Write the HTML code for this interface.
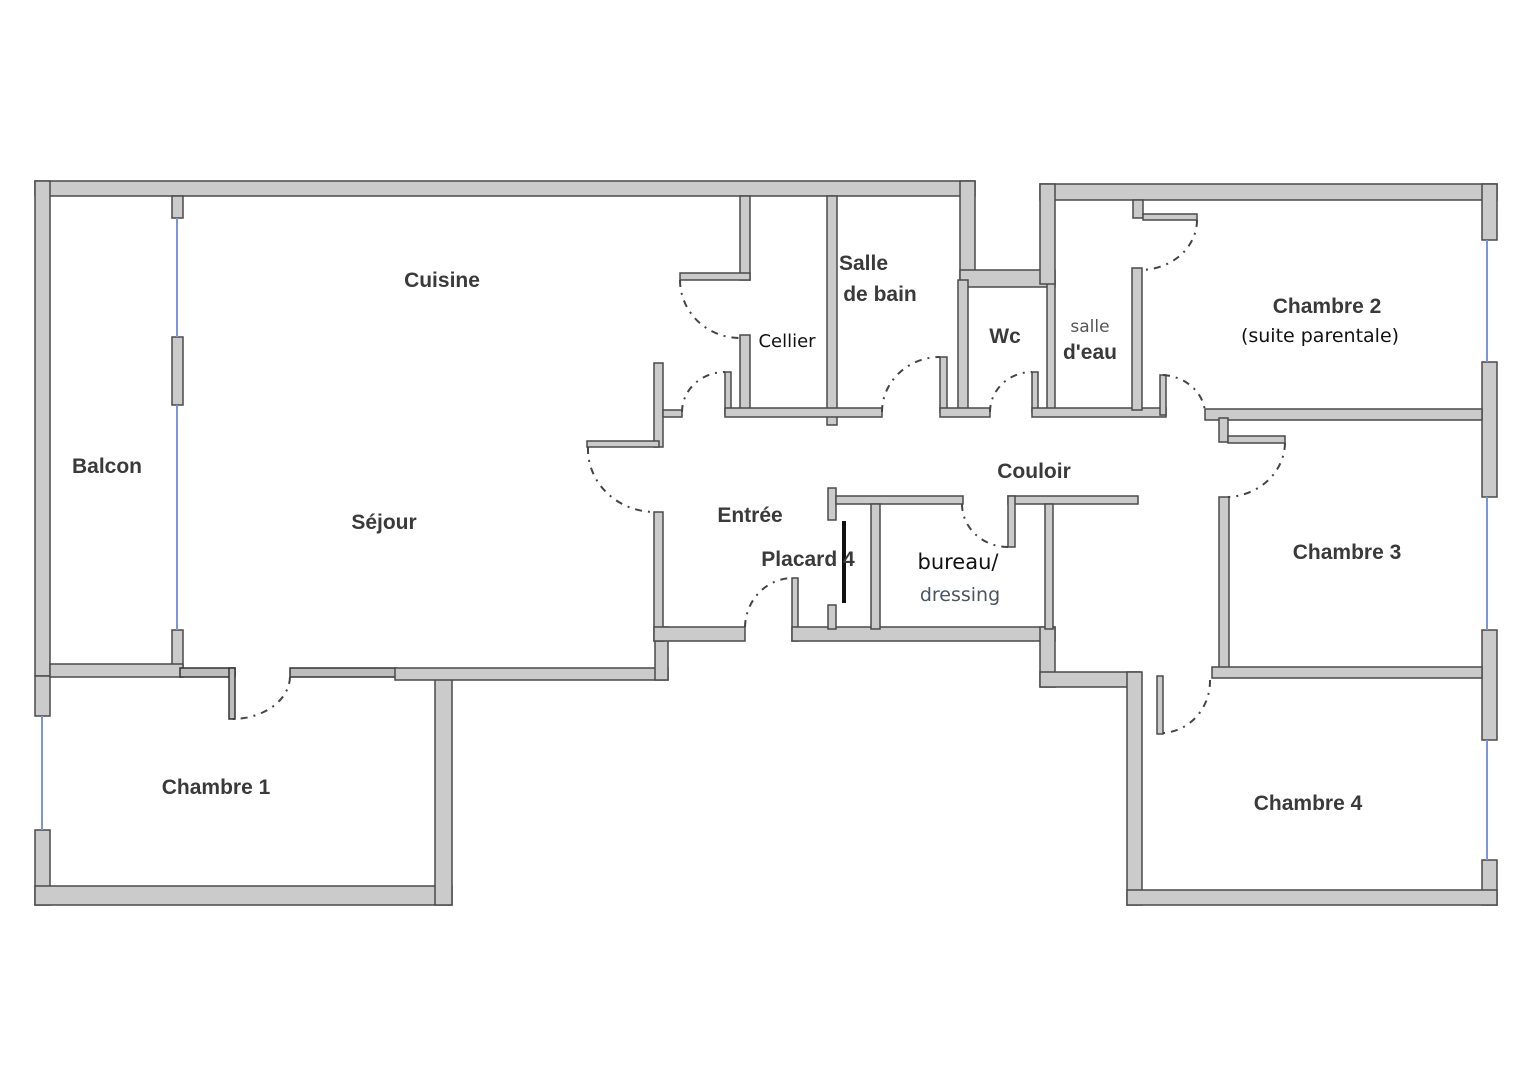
<!DOCTYPE html>
<html><head><meta charset="utf-8"><style>
html,body{margin:0;padding:0;background:#fff;}
svg{display:block;}
.w{fill:#cbcbcb;stroke:#4a4a4a;stroke-width:1.5;}
.h{fill:#bdbdbd;stroke:#333;stroke-width:1.5;}
.d{fill:none;stroke:#444;stroke-width:2;stroke-dasharray:7 6 2 6;}
.win{stroke:#7a96d8;stroke-width:2;}
.t{font-family:"Liberation Sans",sans-serif;font-weight:bold;font-size:21px;fill:#3a3a3a;text-anchor:middle;}
.hw{font-family:"DejaVu Sans","Liberation Sans",sans-serif;font-size:19px;fill:#111;text-anchor:middle;}
</style></head><body>
<svg width="1527" height="1080" viewBox="0 0 1527 1080" xmlns="http://www.w3.org/2000/svg">
<!-- LEFT BLOCK outer -->
<rect class="w" x="35" y="181" width="940" height="15"/>
<rect class="w" x="35" y="181" width="15" height="495"/>
<rect class="w" x="35" y="830" width="15" height="75"/>
<rect class="w" x="35" y="676" width="15" height="40"/>
<rect class="w" x="35" y="886" width="417" height="19"/>
<rect class="w" x="435" y="672" width="17" height="233"/>
<rect class="w" x="960" y="181" width="15" height="105"/>
<!-- dip -->
<rect class="w" x="960" y="270" width="95" height="17"/>
<!-- balcony/sejour wall -->
<rect class="w" x="172" y="196" width="11" height="22"/>
<rect class="w" x="172" y="337" width="11" height="68"/>
<rect class="w" x="172" y="630" width="11" height="40"/>
<line class="win" x1="177" y1="218" x2="177" y2="337"/>
<line class="win" x1="177" y1="405" x2="177" y2="630"/>
<line class="win" x1="42" y1="716" x2="42" y2="830"/>
<rect class="w" x="50" y="664" width="133" height="13"/>
<rect class="h" x="180" y="668" width="55" height="9"/>
<rect class="h" x="229" y="668" width="6" height="51"/>
<rect class="h" x="290" y="668" width="106" height="9"/>
<rect class="w" x="395" y="668" width="273" height="12"/>
<rect class="w" x="655" y="627" width="13" height="53"/>
<!-- Entree -->
<rect class="w" x="654" y="363" width="9" height="84"/>
<rect class="w" x="663" y="410" width="19" height="7"/>
<rect class="w" x="587" y="441" width="72" height="6"/>
<rect class="w" x="654" y="512" width="9" height="129"/>
<rect class="w" x="654" y="627" width="91" height="14"/>
<rect class="w" x="792" y="578" width="6" height="63"/>
<rect class="w" x="792" y="627" width="263" height="14"/>
<!-- cellier / sdb -->
<rect class="w" x="740" y="196" width="10" height="84"/>
<rect class="w" x="680" y="273" width="70" height="7"/>
<rect class="w" x="740" y="335" width="10" height="80"/>
<rect class="w" x="725" y="372" width="6" height="43"/>
<rect class="w" x="827" y="196" width="10" height="229"/>
<rect class="w" x="725" y="408" width="157" height="9"/>
<rect class="w" x="940" y="357" width="7" height="55"/>
<rect class="w" x="958" y="280" width="10" height="132"/>
<rect class="w" x="940" y="408" width="50" height="9"/>
<rect class="w" x="1047" y="280" width="8" height="132"/>
<rect class="w" x="1032" y="372" width="6" height="40"/>
<rect class="w" x="1032" y="408" width="134" height="9"/>
<rect class="w" x="1132" y="268" width="10" height="142"/>
<rect class="w" x="1160" y="375" width="6" height="40"/>
<!-- right block outer -->
<rect class="w" x="1040" y="184" width="457" height="16"/>
<rect class="w" x="1040" y="184" width="15" height="100"/>
<rect class="w" x="1133" y="200" width="10" height="18"/>
<rect class="w" x="1143" y="214" width="54" height="6"/>
<rect class="w" x="1482" y="184" width="15" height="56"/>
<rect class="w" x="1482" y="362" width="15" height="135"/>
<rect class="w" x="1482" y="630" width="15" height="110"/>
<rect class="w" x="1482" y="860" width="15" height="45"/>
<line class="win" x1="1487" y1="240" x2="1487" y2="362"/>
<line class="win" x1="1487" y1="497" x2="1487" y2="630"/>
<line class="win" x1="1487" y1="740" x2="1487" y2="860"/>
<rect class="w" x="1205" y="409" width="277" height="11"/>
<rect class="w" x="1219" y="418" width="9" height="24"/>
<rect class="w" x="1228" y="436" width="57" height="7"/>
<rect class="w" x="1219" y="497" width="10" height="178"/>
<rect class="w" x="1212" y="667" width="270" height="11"/>
<rect class="w" x="1157" y="676" width="6" height="58"/>
<rect class="w" x="1040" y="627" width="15" height="60"/>
<rect class="w" x="1040" y="672" width="100" height="15"/>
<rect class="w" x="1127" y="672" width="15" height="233"/>
<rect class="w" x="1127" y="890" width="370" height="15"/>
<!-- couloir lower -->
<rect class="w" x="828" y="488" width="8" height="32"/>
<rect class="w" x="836" y="496" width="127" height="8"/>
<rect class="w" x="1008" y="496" width="130" height="8"/>
<rect class="w" x="1008" y="496" width="7" height="51"/>
<rect class="w" x="871" y="504" width="9" height="125"/>
<rect class="w" x="1045" y="504" width="8" height="125"/>
<rect class="w" x="828" y="605" width="8" height="24"/>
<rect x="842" y="521" width="4" height="82" fill="#111"/>
<!-- doors -->
<path class="d" d="M680,280 A60,58 0 0 0 740,338"/>
<path class="d" d="M682,412 A43,40 0 0 1 725,372"/>
<path class="d" d="M882,412 A58,55 0 0 1 940,357"/>
<path class="d" d="M990,412 A42,40 0 0 1 1032,372"/>
<path class="d" d="M1163,375 A45,40 0 0 1 1205,412"/>
<path class="d" d="M1197,220 A57,50 0 0 1 1140,270"/>
<path class="d" d="M1285,443 A60,55 0 0 1 1228,497"/>
<path class="d" d="M588,447 A67,63 0 0 0 655,512"/>
<path class="d" d="M745,627 A48,50 0 0 1 793,578"/>
<path class="d" d="M962,504 A46,43 0 0 0 1008,547"/>
<path class="d" d="M1210,680 A50,52 0 0 1 1163,733"/>
<path class="d" d="M290,677 A58,43 0 0 1 232,719"/>
<!-- labels -->
<text class="t" x="442" y="287">Cuisine</text>
<text class="t" x="384" y="529">Séjour</text>
<text class="t" x="107" y="473">Balcon</text>
<text class="t" x="216" y="794">Chambre 1</text>
<text class="hw" x="787" y="347" style="font-size:18px">Cellier</text>
<text class="t" x="866" y="270" style="text-anchor:start" transform="translate(-27,0)">Salle</text>
<text class="t" x="880" y="301">de bain</text>
<text class="t" x="1005" y="343">Wc</text>
<text class="hw" x="1090" y="332" style="font-size:17px;fill:#555">salle</text>
<text class="t" x="1090" y="359">d'eau</text>
<text class="t" x="1327" y="313">Chambre 2</text>
<text class="hw" x="1320" y="342">(suite parentale)</text>
<text class="t" x="1034" y="478">Couloir</text>
<text class="t" x="750" y="522">Entrée</text>
<text class="t" x="808" y="566">Placard 4</text>
<text class="hw" x="958" y="569" style="font-size:21px">bureau/</text>
<text class="hw" x="960" y="601" style="fill:#4a5563">dressing</text>
<text class="t" x="1347" y="559">Chambre 3</text>
<text class="t" x="1308" y="810">Chambre 4</text>
</svg>
</body></html>
